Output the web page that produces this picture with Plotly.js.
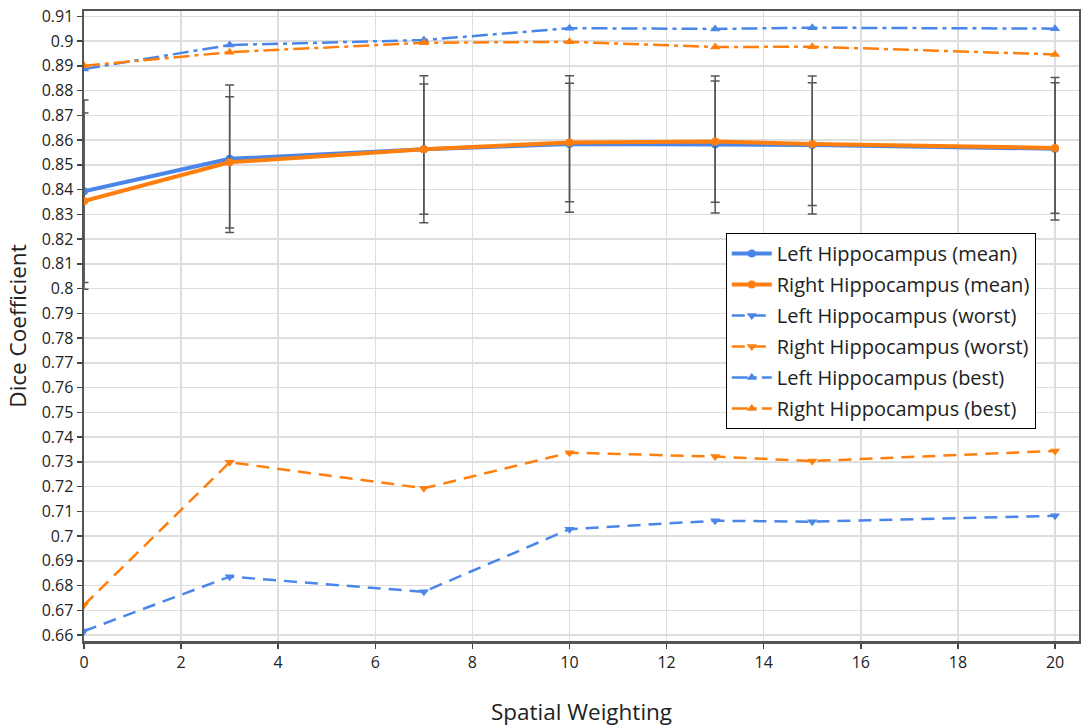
<!DOCTYPE html>
<html>
<head>
<meta charset="utf-8">
<script src="https://cdn.plot.ly/plotly-3.0.1.min.js"></script>
<style>html,body{margin:0;padding:0;background:#fff;}#chart{width:1081px;height:727px;}</style>
</head>
<body>
<div id="chart"></div>
<script>
const spatialWeighting = [0, 3, 7, 10, 13, 15, 20];

const leftMean  = [0.8393, 0.8524, 0.8563, 0.8584, 0.8582, 0.8580, 0.8565];
const rightMean = [0.8353, 0.8510, 0.8563, 0.8590, 0.8594, 0.8584, 0.8568];
const leftStd   = [0.0369, 0.0298, 0.0297, 0.0276, 0.0277, 0.0279, 0.0288];
const rightStd  = [0.0356, 0.0265, 0.0263, 0.0239, 0.0245, 0.0248, 0.0264];

const leftWorst  = [0.6616, 0.6836, 0.6775, 0.7028, 0.7062, 0.7058, 0.7082];
const rightWorst = [0.6721, 0.7298, 0.7193, 0.7337, 0.7321, 0.7303, 0.7344];
const leftBest   = [0.8887, 0.8984, 0.9004, 0.9052, 0.9049, 0.9054, 0.9050];
const rightBest  = [0.8900, 0.8955, 0.8993, 0.8997, 0.8976, 0.8977, 0.8946];

const names = [
  'Left Hippocampus (mean)', 'Right Hippocampus (mean)',
  'Left Hippocampus (worst)', 'Right Hippocampus (worst)',
  'Left Hippocampus (best)', 'Right Hippocampus (best)'
];

const BLUE = '#4a86e8', ORANGE = '#ff7f0e';
const errStyle = {color: '#555', thickness: 1.5, width: 4.5};

const traces = [
  {x: spatialWeighting, y: leftMean, name: names[0], legendgroup: 'g0', mode: 'lines+markers',
   line: {color: BLUE, width: 4}, marker: {symbol: 'circle', size: 8, color: BLUE},
   error_y: Object.assign({type: 'data', array: leftStd, visible: true}, errStyle)},
  {x: spatialWeighting, y: rightMean, name: names[1], legendgroup: 'g1', mode: 'lines+markers',
   line: {color: ORANGE, width: 4}, marker: {symbol: 'circle', size: 8, color: ORANGE},
   error_y: Object.assign({type: 'data', array: rightStd, visible: true}, errStyle)},
  {x: spatialWeighting, y: leftWorst, name: names[2], legendgroup: 'g2', mode: 'lines+markers',
   line: {color: BLUE, width: 2.5, dash: '13px,8px'}, marker: {symbol: 'triangle-down', size: 9, color: BLUE}},
  {x: spatialWeighting, y: rightWorst, name: names[3], legendgroup: 'g3', mode: 'lines+markers',
   line: {color: ORANGE, width: 2.5, dash: '13px,8px'}, marker: {symbol: 'triangle-down', size: 9, color: ORANGE}},
  {x: spatialWeighting, y: leftBest, name: names[4], legendgroup: 'g4', mode: 'lines+markers',
   line: {color: BLUE, width: 2.5, dash: '16px,5px,4px,5px'}, marker: {symbol: 'triangle-up', size: 9, color: BLUE}},
  {x: spatialWeighting, y: rightBest, name: names[5], legendgroup: 'g5', mode: 'lines+markers',
   line: {color: ORANGE, width: 2.5, dash: '16px,5px,4px,5px'}, marker: {symbol: 'triangle-up', size: 9, color: ORANGE}}
];

const layout = {
  width: 1081, height: 727,
  margin: {l: 84, r: 2, t: 11, b: 86},
  paper_bgcolor: '#fff', plot_bgcolor: '#fff',
  font: {family: 'Open Sans, sans-serif', size: 16, color: '#222'},
  showlegend: true,
  legend: {
    x: 0.645, y: 0.6476, xanchor: 'left', yanchor: 'top',
    bgcolor: '#fff', bordercolor: '#000', borderwidth: 1,
    itemwidth: 40, traceorder: 'grouped', tracegroupgap: 2,
    font: {family: 'Open Sans, sans-serif', size: 20, color: '#222'}
  },
  xaxis: {
    range: [0, 20.494], dtick: 2, tick0: 0,
    showgrid: true, gridcolor: '#dedede', gridwidth: 1.5, zeroline: false,
    showline: true, linecolor: '#555', linewidth: 2.5, mirror: true,
    ticks: 'outside', ticklen: 5, tickwidth: 1.5, tickcolor: '#444',
    tickfont: {size: 16},
    title: {text: 'Spatial Weighting', font: {size: 22.5}, standoff: 33}
  },
  yaxis: {
    range: [0.6576, 0.91214], dtick: 0.01, tick0: 0.66,
    showgrid: true, gridcolor: '#dedede', gridwidth: 1.5, zeroline: false,
    showline: true, linecolor: '#555', linewidth: 2.5, mirror: true,
    ticks: 'outside', ticklen: 5, tickwidth: 1.5, tickcolor: '#444',
    tickfont: {size: 16},
    title: {text: 'Dice Coefficient', font: {size: 22.5}, standoff: 9}
  }
};

Plotly.newPlot('chart', traces, layout, {displayModeBar: false, staticPlot: true});
</script>
</body>
</html>
